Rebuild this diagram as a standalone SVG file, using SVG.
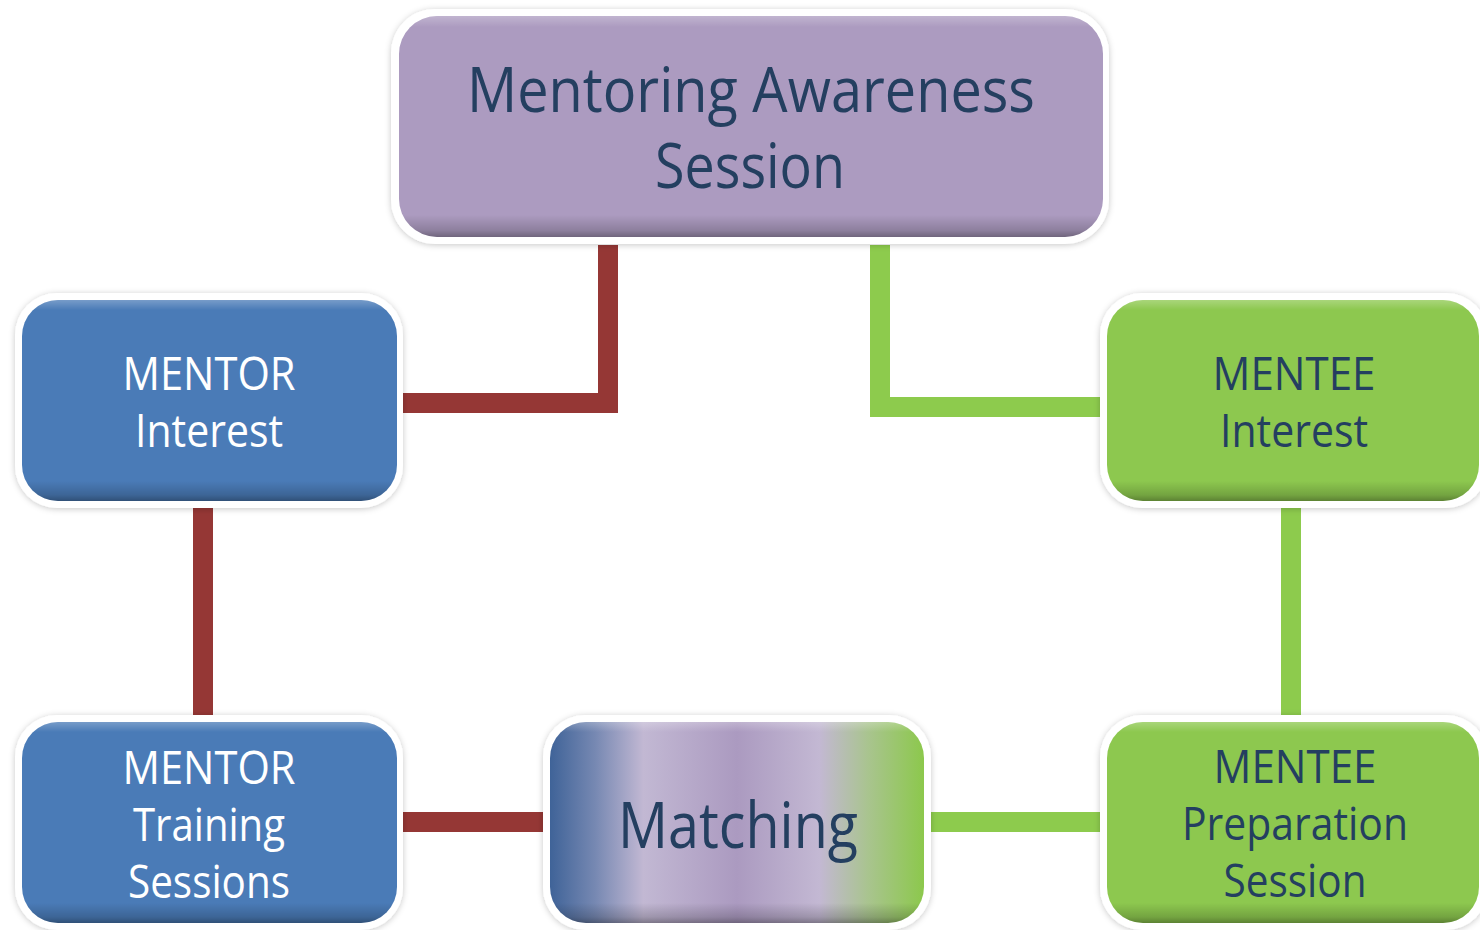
<svg xmlns="http://www.w3.org/2000/svg" width="1480" height="930" viewBox="0 0 1480 930">
<style>
.lbl{font-family:"Open Sans","Noto Sans","DejaVu Sans",sans-serif;text-anchor:middle}
.dark{fill:#243f60}
.light{fill:#ffffff}
.outer{fill:#ffffff;filter:url(#sh)}
.bev{fill:url(#bevel)}
.red{stroke:#953735;stroke-width:20;fill:none;stroke-linecap:butt;stroke-linejoin:miter}
.grn{stroke:#8dcb4d;stroke-width:20;fill:none;stroke-linecap:butt;stroke-linejoin:miter}
</style>
<defs>
<filter id="sh" x="-10%" y="-10%" width="120%" height="120%">
<feDropShadow dx="0" dy="1" stdDeviation="3" flood-color="#000" flood-opacity="0.22"/>
</filter>
<linearGradient id="bevel" x1="0" y1="0" x2="0" y2="1">
<stop offset="0" stop-color="#fff" stop-opacity="0.25"/>
<stop offset="0.05" stop-color="#fff" stop-opacity="0"/>
<stop offset="0.9" stop-color="#000" stop-opacity="0"/>
<stop offset="0.97" stop-color="#000" stop-opacity="0.18"/>
<stop offset="1" stop-color="#000" stop-opacity="0.35"/>
</linearGradient>
<linearGradient id="match" x1="0" y1="0" x2="1" y2="0">
<stop offset="0" stop-color="#3f6398"/>
<stop offset="0.12" stop-color="#7688b2"/>
<stop offset="0.25" stop-color="#c2b8d3"/>
<stop offset="0.5" stop-color="#ab9ac0"/>
<stop offset="0.72" stop-color="#c3b8d3"/>
<stop offset="0.85" stop-color="#a9c48f"/>
<stop offset="1" stop-color="#8cc84c"/>
</linearGradient>
</defs>
<g id="connectors">
<polyline class="red" points="608,245 608,403 403,403"/>
<polyline class="grn" points="880,245 880,407 1100,407"/>
<line class="red" x1="203" y1="508" x2="203" y2="715"/>
<line class="grn" x1="1291" y1="508" x2="1291" y2="715"/>
<line class="red" x1="402" y1="822" x2="543" y2="822"/>
<line class="grn" x1="930" y1="822" x2="1100" y2="822"/>
</g>
<g id="awareness">
<rect class="outer" x="391" y="9" width="718" height="235" rx="44"/>
<rect x="399" y="16" width="704" height="221" rx="38" fill="#ac9bc0"/>
<rect class="bev" x="399" y="16" width="704" height="221" rx="38"/>
<text class="lbl dark" font-size="62" x="751" y="112" textLength="568" lengthAdjust="spacingAndGlyphs">Mentoring Awareness</text>
<text class="lbl dark" font-size="62" x="750" y="188" textLength="190" lengthAdjust="spacingAndGlyphs">Session</text>
</g>
<g id="mentor-interest">
<rect class="outer" x="15" y="293" width="388" height="215" rx="42"/>
<rect x="22" y="300" width="375" height="201" rx="36" fill="#4a7bb7"/>
<rect class="bev" x="22" y="300" width="375" height="201" rx="36"/>
<text class="lbl light" font-size="45" x="209" y="390" textLength="173" lengthAdjust="spacingAndGlyphs">MENTOR</text>
<text class="lbl light" font-size="45" x="209" y="447" textLength="148" lengthAdjust="spacingAndGlyphs">Interest</text>
</g>
<g id="mentee-interest">
<rect class="outer" x="1100" y="293" width="388" height="215" rx="42"/>
<rect x="1107" y="300" width="372" height="201" rx="36" fill="#8dc84f"/>
<rect class="bev" x="1107" y="300" width="372" height="201" rx="36"/>
<text class="lbl dark" font-size="45" x="1294" y="390" textLength="163" lengthAdjust="spacingAndGlyphs">MENTEE</text>
<text class="lbl dark" font-size="45" x="1294" y="447" textLength="148" lengthAdjust="spacingAndGlyphs">Interest</text>
</g>
<g id="mentor-training">
<rect class="outer" x="15" y="715" width="388" height="215" rx="42"/>
<rect x="22" y="722" width="375" height="201" rx="36" fill="#4a7bb7"/>
<rect class="bev" x="22" y="722" width="375" height="201" rx="36"/>
<text class="lbl light" font-size="45" x="209" y="784" textLength="173" lengthAdjust="spacingAndGlyphs">MENTOR</text>
<text class="lbl light" font-size="45" x="209" y="841" textLength="152" lengthAdjust="spacingAndGlyphs">Training</text>
<text class="lbl light" font-size="45" x="209" y="898" textLength="162" lengthAdjust="spacingAndGlyphs">Sessions</text>
</g>
<g id="matching">
<rect class="outer" x="543" y="715" width="388" height="215" rx="42"/>
<rect x="550" y="722" width="374" height="201" rx="36" fill="url(#match)"/>
<rect class="bev" x="550" y="722" width="374" height="201" rx="36"/>
<text class="lbl dark" font-size="64" x="738" y="848" textLength="240" lengthAdjust="spacingAndGlyphs">Matching</text>
</g>
<g id="mentee-preparation">
<rect class="outer" x="1100" y="715" width="388" height="215" rx="42"/>
<rect x="1107" y="722" width="372" height="201" rx="36" fill="#8dc84f"/>
<rect class="bev" x="1107" y="722" width="372" height="201" rx="36"/>
<text class="lbl dark" font-size="45" x="1295" y="783" textLength="163" lengthAdjust="spacingAndGlyphs">MENTEE</text>
<text class="lbl dark" font-size="45" x="1295" y="840" textLength="226" lengthAdjust="spacingAndGlyphs">Preparation</text>
<text class="lbl dark" font-size="45" x="1295" y="897" textLength="143" lengthAdjust="spacingAndGlyphs">Session</text>
</g>
</svg>
